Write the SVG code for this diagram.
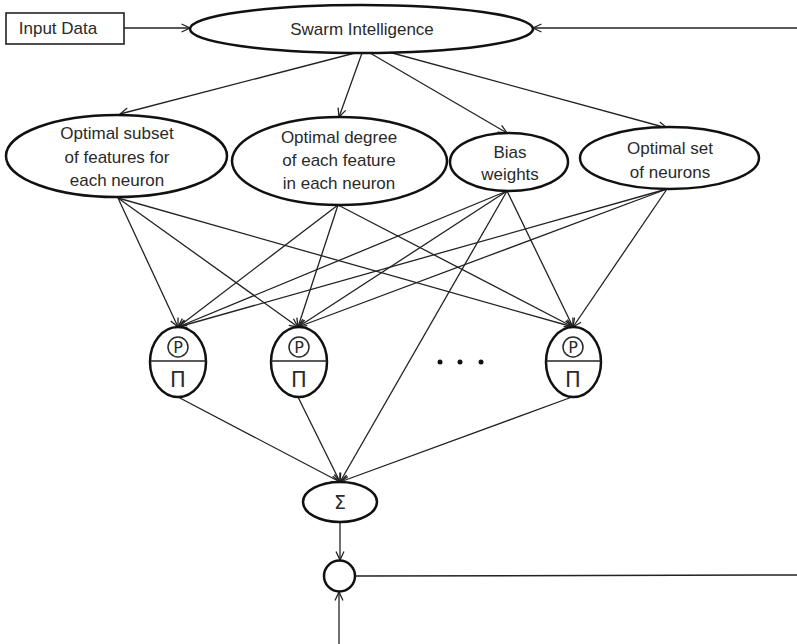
<svg xmlns="http://www.w3.org/2000/svg" width="797" height="644" viewBox="0 0 797 644">
  <style>
    .node { fill: #fff; stroke: #111; stroke-width: 2.5; }
    .box { fill: #fff; stroke: #222; stroke-width: 1.6; }
    .lbl { font-family: "Liberation Sans", Arial, sans-serif; font-size: 17px; fill: #2a2a2a; text-anchor: middle; }
    .sym { font-family: "DejaVu Sans", "Liberation Sans", sans-serif; fill: #2a2a2a; text-anchor: middle; }
    .edge { fill: none; stroke: #222; stroke-width: 1.3; marker-end: url(#arr); }
    .plain { fill: none; stroke: #222; stroke-width: 1.5; }
    .pc { fill: none; stroke: #2a2a2a; stroke-width: 1.5; }
  </style>
  <defs>
    <marker id="arr" viewBox="0 0 10 10" refX="9.5" refY="5" markerWidth="10" markerHeight="10" markerUnits="userSpaceOnUse" orient="auto">
      <path d="M1,1 L9.5,5 L1,9" fill="none" stroke="#222" stroke-width="1.3"/>
    </marker>
  </defs>
  <rect width="797" height="644" fill="#fff"/>

  <!-- connectors -->
  <g id="connectors">
    <line class="edge" x1="124" y1="28" x2="190" y2="28"/>
    <line class="edge" x1="797" y1="28" x2="533" y2="28"/>
    <line class="edge" x1="355" y1="53" x2="120" y2="114"/>
    <line class="edge" x1="362" y1="53" x2="339" y2="117"/>
    <line class="edge" x1="370" y1="53" x2="507" y2="133"/>
    <line class="edge" x1="385" y1="51" x2="667" y2="128"/>

    <line class="edge" x1="118" y1="198" x2="178" y2="327"/>
    <line class="edge" x1="118" y1="198" x2="298" y2="327"/>
    <line class="edge" x1="118" y1="198" x2="573" y2="327"/>

    <line class="edge" x1="338" y1="205" x2="178" y2="327"/>
    <line class="edge" x1="338" y1="205" x2="298" y2="327"/>
    <line class="edge" x1="338" y1="205" x2="573" y2="327"/>

    <line class="edge" x1="507" y1="191" x2="178" y2="327"/>
    <line class="edge" x1="507" y1="191" x2="298" y2="327"/>
    <line class="edge" x1="507" y1="191" x2="573" y2="327"/>
    <line class="edge" x1="507" y1="191" x2="340" y2="482"/>

    <line class="edge" x1="667" y1="189" x2="178" y2="327"/>
    <line class="edge" x1="667" y1="189" x2="298" y2="327"/>
    <line class="edge" x1="667" y1="189" x2="573" y2="327"/>

    <line class="edge" x1="178" y1="397" x2="340" y2="482"/>
    <line class="edge" x1="298" y1="397" x2="340" y2="482"/>
    <line class="edge" x1="572" y1="397" x2="340" y2="482"/>

    <line class="edge" x1="340" y1="522" x2="340" y2="560"/>
    <line class="edge" x1="339" y1="644" x2="339" y2="592"/>
    <line class="plain" x1="355" y1="576" x2="797" y2="575"/>
  </g>

  <g id="input-data">
    <rect class="box" x="6" y="13" width="118" height="31"/>
    <text class="lbl" x="58" y="34">Input Data</text>
  </g>

  <g id="swarm">
    <ellipse class="node" cx="361.5" cy="29" rx="171.5" ry="24"/>
    <text class="lbl" x="362" y="35">Swarm Intelligence</text>
  </g>

  <g id="subset">
    <ellipse class="node" cx="116.5" cy="156" rx="110.5" ry="41"/>
    <text class="lbl" x="117" y="139">Optimal subset</text>
    <text class="lbl" x="117" y="163">of features for</text>
    <text class="lbl" x="117" y="186">each neuron</text>
  </g>

  <g id="degree">
    <ellipse class="node" cx="339.5" cy="161" rx="107.5" ry="44"/>
    <text class="lbl" x="339" y="143">Optimal degree</text>
    <text class="lbl" x="339" y="166">of each feature</text>
    <text class="lbl" x="339" y="189">in each neuron</text>
  </g>

  <g id="bias">
    <ellipse class="node" cx="509" cy="162" rx="59" ry="29"/>
    <text class="lbl" x="510" y="158">Bias</text>
    <text class="lbl" x="510" y="180">weights</text>
  </g>

  <g id="neuron-set">
    <ellipse class="node" cx="669.5" cy="158" rx="89.5" ry="31"/>
    <text class="lbl" x="670" y="154">Optimal set</text>
    <text class="lbl" x="670" y="178">of neurons</text>
  </g>

  <g id="neuron-1">
    <ellipse class="node" cx="178" cy="362" rx="28" ry="35"/>
    <line class="plain" x1="150" y1="361" x2="206" y2="361"/>
    <circle class="pc" cx="178" cy="347" r="10"/>
    <text class="sym" x="178" y="353" font-size="16">P</text>
    <text class="sym" x="178" y="387" font-size="21">Π</text>
  </g>

  <g id="neuron-2">
    <ellipse class="node" cx="299" cy="362" rx="28" ry="35"/>
    <line class="plain" x1="271" y1="361" x2="327" y2="361"/>
    <circle class="pc" cx="299" cy="347" r="10"/>
    <text class="sym" x="299" y="353" font-size="16">P</text>
    <text class="sym" x="299" y="387" font-size="21">Π</text>
  </g>

  <g id="ellipsis">
    <circle cx="440" cy="362" r="2.5" fill="#111"/>
    <circle cx="460" cy="362" r="2.5" fill="#111"/>
    <circle cx="481" cy="362" r="2.5" fill="#111"/>
  </g>

  <g id="neuron-n">
    <ellipse class="node" cx="573.5" cy="362" rx="27.5" ry="35"/>
    <line class="plain" x1="546" y1="361" x2="601" y2="361"/>
    <circle class="pc" cx="573" cy="347" r="10"/>
    <text class="sym" x="573" y="353" font-size="16">P</text>
    <text class="sym" x="573" y="387" font-size="21">Π</text>
  </g>

  <g id="sum">
    <ellipse class="node" cx="340" cy="502" rx="37" ry="20"/>
    <text class="sym" x="340" y="509" font-size="19">Σ</text>
  </g>

  <g id="junction">
    <circle class="node" cx="339.5" cy="576" r="15.5"/>
  </g>
</svg>
